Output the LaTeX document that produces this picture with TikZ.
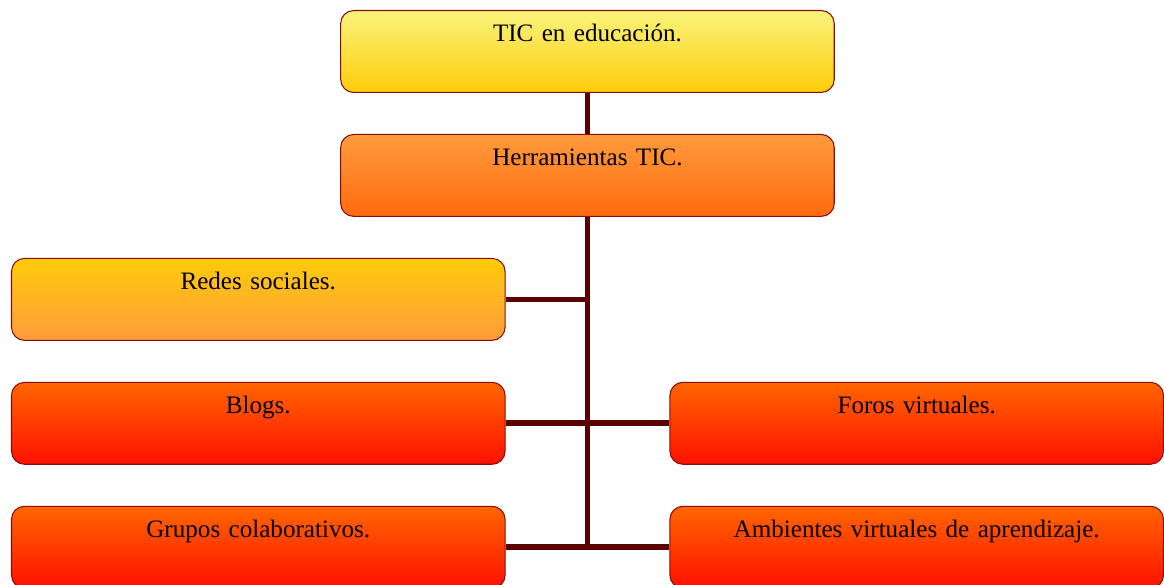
\documentclass[tikz,border=0pt]{standalone}
\usepackage{fontspec}
\setmainfont{Liberation Serif}
\usepackage{tikz}
\usetikzlibrary{positioning, calc}

\definecolor{borde}{HTML}{8B0A0A}
\definecolor{linea}{HTML}{5A0000}
\definecolor{amarA}{HTML}{F9F47C}
\definecolor{amarB}{HTML}{FFCC0A}
\definecolor{naraA}{HTML}{FF9B3C}
\definecolor{naraB}{HTML}{FF6A0E}
\definecolor{rojoA}{HTML}{FF6600}
\definecolor{rojoB}{HTML}{FF1000}

\begin{document}
\begin{tikzpicture}[node distance = 0.82cm, auto,
	caja/.style = {draw=borde, line width=0.6pt, rounded corners=0.26cm,
		text width=9.88cm, align=center, inner xsep=0pt, inner ysep=0pt,
		text height=0.62cm, text depth=1.02cm,
		font=\fontsize{14.3}{17}\selectfont},
	amarilla/.style = {caja, top color=amarA, bottom color=amarB},
	naranja/.style  = {caja, top color=naraA, bottom color=naraB},
	mixta/.style    = {caja, top color=amarB, bottom color=naraA},
	roja/.style     = {caja, top color=rojoA, bottom color=rojoB},
	con/.style      = {draw=linea, line width=3.2pt}]
				\node[amarilla] (tic)                                  {TIC en educación.};
				\node[naranja]  (herr)  [below = of tic]                {Herramientas TIC.};
				\node[mixta]    (redes) [below = of herr, xshift=-6.59cm] {Redes sociales.};
				\node[roja]     (blogs) [below = of redes]              {Blogs.};
				\node[roja]     (grupos)[below = of blogs]              {Grupos colaborativos.};
				\node[roja]     (foros) [right = 3.28cm of blogs]       {Foros virtuales.};
				\node[roja]     (amb)   [right = 3.28cm of grupos]      {Ambientes virtuales de aprendizaje.};
				
				\path[con]
				(tic)  -- (herr)
				(herr.south) -- (herr.south |- grupos.east)
				(redes.east) -- (redes.east -| herr.south)
				(blogs.east) -- (foros.west)
				(grupos.east) -- (amb.west)
				;
				
				% marco: la fila de abajo queda cortada
				\pgfresetboundingbox
				\useasboundingbox ($(redes.west |- tic.north)+(-0.22,0.2)$) rectangle ($(foros.east |- grupos.north)+(0,-1.58)$);
			\end{tikzpicture}
\end{document}
